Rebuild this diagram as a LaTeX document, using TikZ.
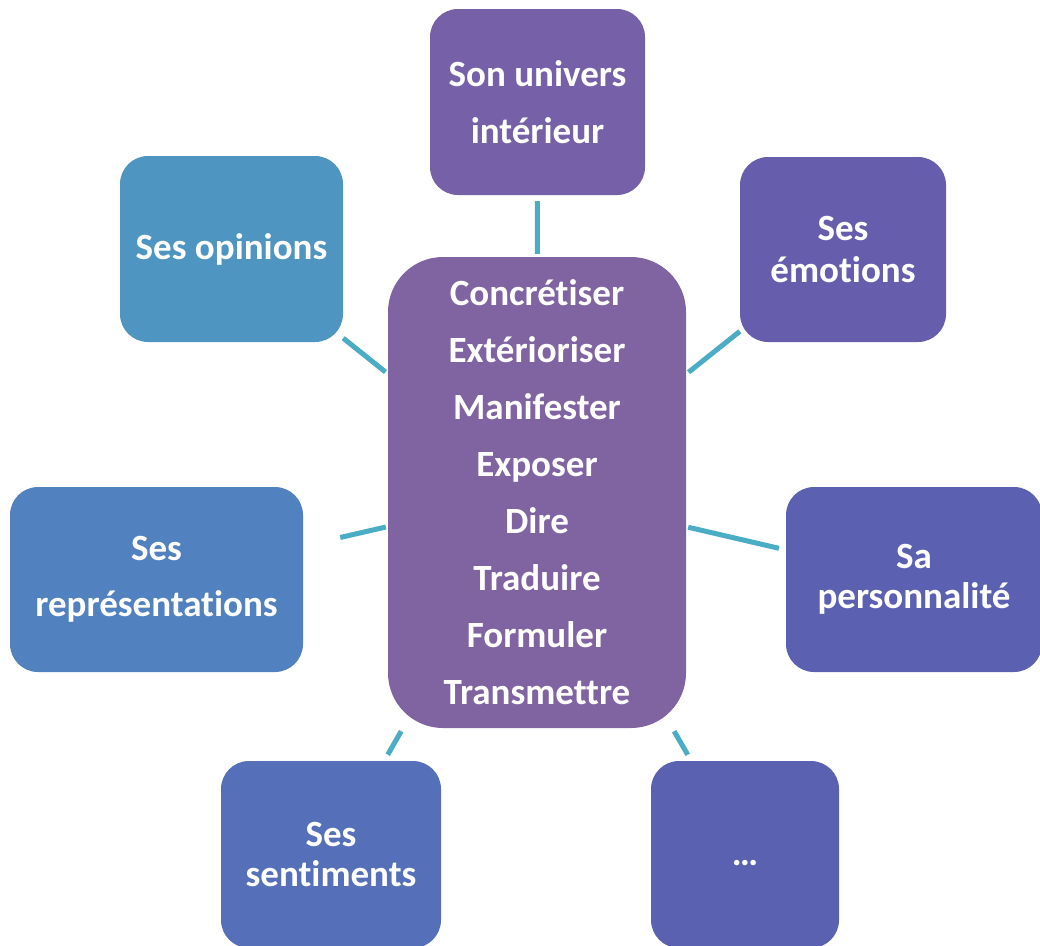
\documentclass[tikz,border=0pt]{standalone}
\usepackage{fontspec}
\setmainfont{Carlito}[RawFeature={-liga;-clig}]
\definecolor{cCenter}{HTML}{8064A2}
\definecolor{cUniv}{HTML}{7661A8}
\definecolor{cEmo}{HTML}{665EAD}
\definecolor{cPers}{HTML}{5B61B0}
\definecolor{cDots}{HTML}{5A61B1}
\definecolor{cSent}{HTML}{5570B9}
\definecolor{cRepr}{HTML}{5181BE}
\definecolor{cOpin}{HTML}{4F95C1}
\definecolor{cLink}{HTML}{4BACC6}
\begin{document}
\begin{tikzpicture}[x=1pt,y=-1pt,
  box/.style={rectangle, rounded corners=28pt, inner sep=0pt, text=white,
    align=center, font=\fontsize{37}{57}\selectfont\bfseries},
  link/.style={draw=cLink, line width=5pt}]
\useasboundingbox (0,0) rectangle (1040,945);
\node[box, fill=cCenter, rounded corners=55pt, minimum width=298pt, minimum height=471pt] (ctr) at (537,492.5)
  {Concrétiser\\Extérioriser\\Manifester\\Exposer\\Dire\\Traduire\\Formuler\\Transmettre};
\node[box, fill=cUniv, minimum width=215pt, minimum height=186pt] (univ) at (537.5,102) {Son univers\\intérieur};
\node[box, fill=cOpin, minimum width=223pt, minimum height=186pt] (opin) at (231.5,249) {Ses opinions};
\node[box, fill=cEmo, minimum width=206pt, minimum height=185pt, font=\fontsize{37}{42}\selectfont\bfseries] (emo) at (843,249.5) {Ses\\émotions};
\node[box, fill=cRepr, minimum width=293pt, minimum height=185pt, font=\fontsize{37}{56}\selectfont\bfseries] (repr) at (156.5,579.5) {Ses\\représentations};
\node[box, fill=cPers, minimum width=256pt, minimum height=185pt, font=\fontsize{37}{40}\selectfont\bfseries] (pers) at (914,579.5) {Sa\\personnalité};
\node[box, fill=cSent, minimum width=220pt, minimum height=187pt, font=\fontsize{37}{40}\selectfont\bfseries] (sent) at (331,854.5) {Ses\\sentiments};
\node[box, fill=cDots, minimum width=188pt, minimum height=187pt] (dots) at (745,854.5) {\raisebox{-11pt}[0pt][0pt]{…}};
\draw[link, shorten <=6pt, shorten >=3pt] (univ) -- (ctr);
\draw[link, shorten <=0pt, shorten >=3pt] (opin) -- (ctr);
\draw[link, shorten <=0pt, shorten >=3pt] (emo) -- (ctr);
\draw[link, shorten <=38pt, shorten >=2pt] (repr) -- (ctr);
\draw[link, shorten <=7pt, shorten >=2pt] (pers) -- (ctr);
\draw[link, shorten <=7pt, shorten >=3.5pt] (sent) -- (ctr);
\draw[link, shorten <=7pt, shorten >=3.5pt] (dots) -- (ctr);
\end{tikzpicture}
\end{document}
